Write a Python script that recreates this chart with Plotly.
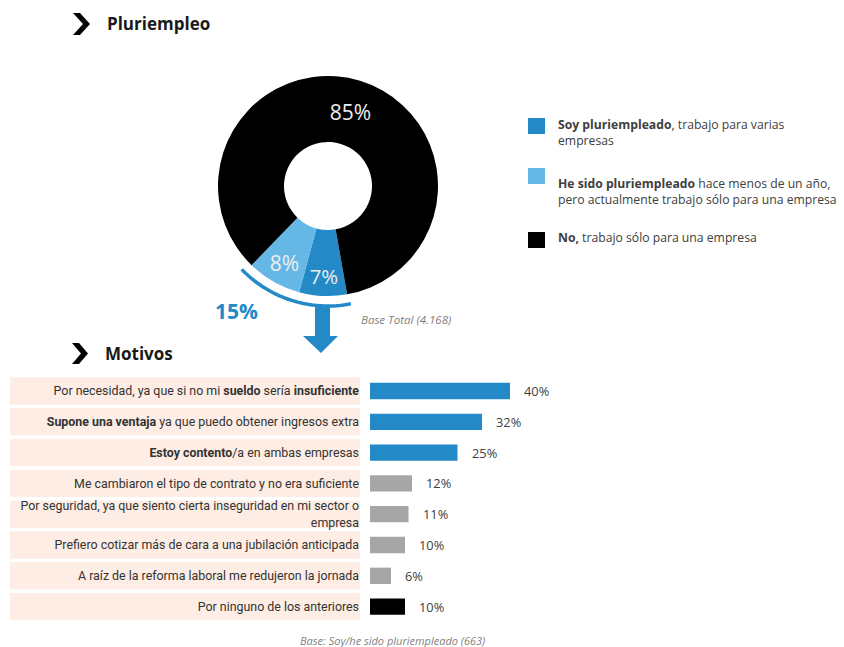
import math
import plotly.graph_objects as go

W, H = 844, 647

# ---- Donut: situación de pluriempleo ----
status_labels = ["Soy pluriempleado", "He sido pluriempleado", "No"]
status_values = [7, 8, 85]
status_colors = ["#2389c7", "#65b8e6", "#000000"]
legend_bold = ["Soy pluriempleado", "He sido pluriempleado", "No,"]
legend_rest = [", trabajo para varias<br>empresas",
               " hace menos de un año,<br>pero actualmente trabajo sólo para una empresa",
               " trabajo sólo para una empresa"]

# ---- Barras: motivos ----
motivos = [
    "Por necesidad, ya que si no mi <b>sueldo</b> sería <b>insuficiente</b>",
    "<b>Supone una ventaja</b> ya que puedo obtener ingresos extra",
    "<b>Estoy contento</b>/a en ambas empresas",
    "Me cambiaron el tipo de contrato y no era suficiente",
    "Por seguridad, ya que siento cierta inseguridad en mi sector o<br>empresa",
    "Prefiero cotizar más de cara a una jubilación anticipada",
    "A raíz de la reforma laboral me redujeron la jornada",
    "Por ninguno de los anteriores",
]
motivos_pct = [40, 32, 25, 12, 11, 10, 6, 10]
motivos_colors = ["#2389c7"] * 3 + ["#a6a6a6"] * 4 + ["#000000"]

BLUE = "#2389c7"
TEXT = "#333333"
GREY_TXT = "#7f7f7f"


def px(x):
    return x / W


def py(y):
    return 1 - y / H


# donut geometry (pixels)
CX, CY, R = 328, 186, 110
ROT = 170

fig = go.Figure()

fig.add_trace(go.Pie(
    labels=status_labels, values=status_values,
    marker=dict(colors=status_colors, line=dict(width=0)),
    hole=0.4, sort=False, direction="clockwise", rotation=ROT,
    texttemplate="%{value}%", textposition="inside",
    insidetextorientation="horizontal",
    textfont=dict(family="Open Sans", size=21, color="#eeeeee"),
    domain=dict(x=[px(CX - R), px(CX + R)], y=[py(CY + R), py(CY - R)]),
    showlegend=False, hoverinfo="label+percent",
))

ys = list(range(len(motivos)))
fig.add_trace(go.Bar(
    x=motivos_pct, y=ys, orientation="h",
    marker=dict(color=motivos_colors, line=dict(width=0)),
    width=0.53, showlegend=False,
    hovertemplate="%{x}%<extra></extra>",
))

shapes = []
annotations = []

# title chevrons
def chevron(x0, y0, h, w, t):
    pts = [(x0, y0), (x0 + t, y0), (x0 + t + w, y0 + h / 2),
           (x0 + t, y0 + h), (x0, y0 + h), (x0 + w, y0 + h / 2)]
    d = "M " + " L ".join(f"{px(a):.5f},{py(b):.5f}" for a, b in pts) + " Z"
    return dict(type="path", path=d, xref="paper", yref="paper",
                fillcolor="#000000", line=dict(width=0))

shapes.append(chevron(73, 13, 22, 10, 7))
shapes.append(chevron(72, 343, 21, 9, 7))

annotations.append(dict(text="<b>Pluriempleo</b>", x=px(105), y=py(24),
                        xref="paper", yref="paper", xanchor="left", yanchor="middle",
                        showarrow=False, font=dict(family="Open Sans", size=17, color="#1a1a1a")))
annotations.append(dict(text="<b>Motivos</b>", x=px(103), y=py(353),
                        xref="paper", yref="paper", xanchor="left", yanchor="middle",
                        showarrow=False, font=dict(family="Open Sans", size=17, color="#1a1a1a")))

# arc spanning the pluriempleo slices
share = status_values[0] + status_values[1]
a0 = ROT
a1 = ROT + share / sum(status_values) * 360
RA = 120
pts = []
n = 40
for i in range(n + 1):
    a = math.radians(a0 - 1 + (a1 - a0 + 3) * i / n)
    pts.append((CX + RA * math.sin(a), CY - RA * math.cos(a)))
arc = "M " + " L ".join(f"{px(a):.5f},{py(b):.5f}" for a, b in pts)
shapes.append(dict(type="path", path=arc, xref="paper", yref="paper",
                   line=dict(color=BLUE, width=3.5)))

annotations.append(dict(text=f"<b>{share}%</b>", x=px(236), y=py(311),
                        xref="paper", yref="paper", xanchor="center", yanchor="middle",
                        showarrow=False, font=dict(family="Open Sans", size=21, color=BLUE)))

# down arrow
arrow_pts = [(315, 307), (330, 307), (330, 336), (338, 336), (321, 353),
             (303, 336), (315, 336)]
d = "M " + " L ".join(f"{px(a):.5f},{py(b):.5f}" for a, b in arrow_pts) + " Z"
shapes.append(dict(type="path", path=d, xref="paper", yref="paper",
                   fillcolor=BLUE, line=dict(width=0)))

annotations.append(dict(text="<i>Base Total (4.168)</i>", x=px(359), y=py(320),
                        xref="paper", yref="paper", xanchor="left", yanchor="middle",
                        showarrow=False, font=dict(family="Open Sans", size=11.5, color=GREY_TXT)))

# donut legend
sq_tops = [118, 168, 232]
txt_mid = [132, 191, 238]
for i in range(3):
    shapes.append(dict(type="rect", xref="paper", yref="paper",
                       x0=px(528), x1=px(545), y0=py(sq_tops[i] + 16), y1=py(sq_tops[i]),
                       fillcolor=status_colors[i], line=dict(width=0)))
    annotations.append(dict(text=f"<b>{legend_bold[i]}</b>{legend_rest[i]}",
                            x=px(556), y=py(txt_mid[i]), xref="paper", yref="paper",
                            xanchor="left", yanchor="middle", align="left",
                            showarrow=False,
                            font=dict(family="Open Sans", size=12.2, color="#404040")))

# label boxes behind each motivo
for i in ys:
    shapes.append(dict(type="rect", xref="paper", yref="y", layer="below",
                       x0=px(10), x1=px(360), y0=i - 0.445, y1=i + 0.445,
                       fillcolor="#fdede4", line=dict(width=0)))

# value labels
for i, v in enumerate(motivos_pct):
    annotations.append(dict(text=f"{v}%", x=v, y=i, xref="x", yref="y",
                            xanchor="left", yanchor="middle", xshift=12,
                            showarrow=False,
                            font=dict(family="Open Sans", size=12.8, color="#404040")))

annotations.append(dict(text="<i>Base: Soy/he sido pluriempleado (663)</i>",
                        x=px(392), y=py(640), xref="paper", yref="paper",
                        xanchor="center", yanchor="middle", showarrow=False,
                        font=dict(family="Open Sans", size=11, color=GREY_TXT)))

row_pitch = 30.8
top = 391 - row_pitch / 2
bottom = top + row_pitch * len(motivos)

fig.update_layout(
    width=W, height=H, autosize=False,
    margin=dict(l=0, r=0, t=0, b=0),
    paper_bgcolor="white", plot_bgcolor="rgba(0,0,0,0)",
    xaxis=dict(domain=[px(370), px(650)], range=[0, 80], visible=False, fixedrange=True),
    yaxis=dict(domain=[py(bottom), py(top)], range=[len(motivos) - 0.5, -0.5],
               tickmode="array", tickvals=ys, ticktext=motivos,
               ticks="", showline=False, showgrid=False, zeroline=False,
               ticklabelstandoff=10,
               tickfont=dict(family="Roboto", size=12.4, color=TEXT)),
    shapes=shapes, annotations=annotations,
)

fig.write_html("out.html")
